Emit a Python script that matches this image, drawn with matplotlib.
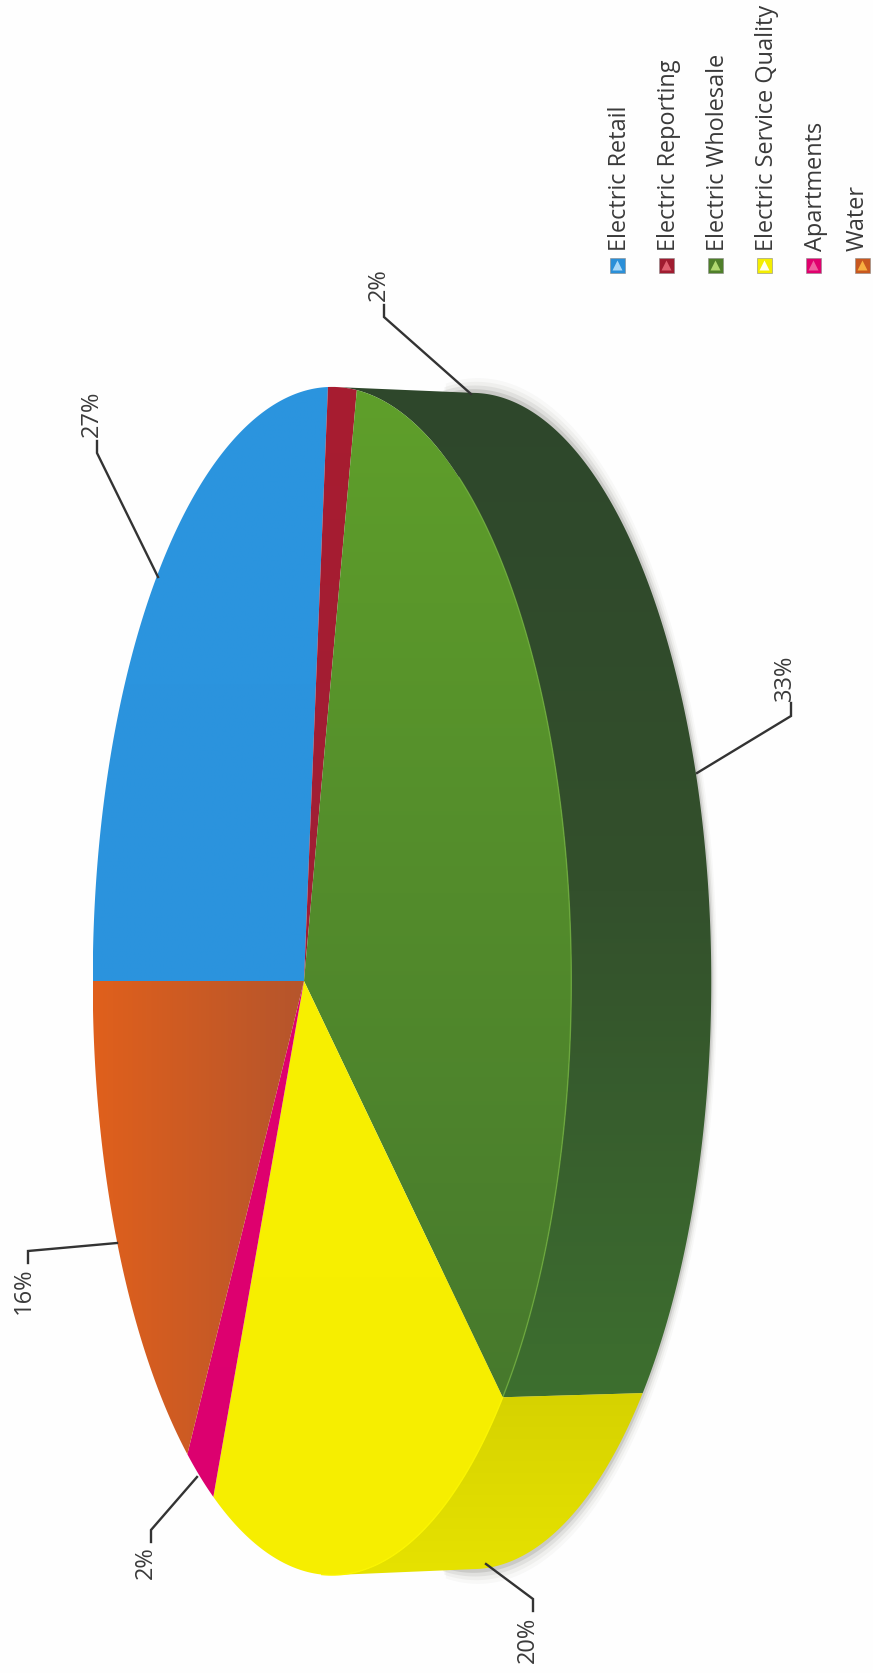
import numpy as np
import matplotlib
matplotlib.use("Agg")
import matplotlib.pyplot as plt
from matplotlib.colors import LinearSegmentedColormap
from matplotlib.patches import Polygon, Rectangle

# ---------- data ----------
categories = ["Electric Retail", "Electric Reporting", "Electric Wholesale",
              "Electric Service Quality", "Apartments", "Water"]
shares = [26.6, 1.9, 32.6, 20.49, 2.2, 16.21]
percent_labels = ["27%", "2%", "33%", "20%", "2%", "16%"]

# ---------- styles ----------
face_grads = [("#2b95df", "#2b93dd"), ("#a81c30", "#9f1f36"), ("#5f9f2a", "#47792d"),
              ("#f8f000", "#f6ee00"), ("#e0006e", "#dc0070"), ("#e0601c", "#b5552c")]
legend_cols = ["#2a8fd8", "#a01c30", "#4f7f2a", "#f4ee00", "#e0006e", "#c8581f"]
marker_cols = ["#a8d8f8", "#e06070", "#b0d870", "#fffff0", "#f060a0", "#f8b040"]

# ---------- layout (pixels of the page) ----------
W, H = 873, 1674
AX, AY = 304, 982        # pie centre on the top face
RX, RY, K = 236, 590, -0.117
DX, SY = 140, 0.99       # depth of the wall
START = 180.0            # page angle where the first slice begins
TANGENT = 83.0           # angle of the topmost and bottommost points of the ellipse
leaders = [[(158, 578), (97, 454), (97, 442)],
           [(471, 395), (384, 318), (384, 306)],
           [(697, 774), (791, 717), (791, 704)],
           [(486, 1565), (533, 1600), (533, 1612)],
           [(197, 1478), (151, 1531), (151, 1543)],
           [(117, 1244), (28, 1252), (28, 1264)]]
label_pos = [(92, 414), (379, 285), (785, 678), (528, 1640), (146, 1563), (24, 1291)]

FONT = "Open Sans"
TXT = "#3a3a3a"

fig = plt.figure(figsize=(W / 100, H / 100), dpi=100, facecolor="#fefefe")
ax = fig.add_axes([0, 0, 1, 1])
ax.set_axis_off()


def project(theta_deg, bottom=False):
    t = np.radians(np.asarray(theta_deg, dtype=float))
    u, v = np.cos(t), np.sin(t)
    x = AX + RX * u / (1 + K * u)
    y = AY - RY * v / (1 + K * u)
    if bottom:
        x = x + DX
        y = AY + (y - AY) * SY
    return np.column_stack([x, y])


def grad_fill(points, c0, c1, vertical=True, mid=None, zorder=2):
    """Polygon filled with a linear gradient, from left to right or top to bottom."""
    stops = [c0, c1] if mid is None else [c0, mid, c1]
    cmap = LinearSegmentedColormap.from_list("g", stops)
    xmin, ymin = points.min(axis=0)
    xmax, ymax = points.max(axis=0)
    ramp = np.linspace(0, 1, 256)
    arr = ramp[:, None] if vertical else ramp[None, :]
    im = ax.imshow(arr, cmap=cmap, extent=(xmin, xmax, ymax, ymin), aspect="auto",
                   interpolation="bilinear", origin="upper", zorder=zorder)
    patch = Polygon(points, closed=True, transform=ax.transData, fc="none", ec="none")
    ax.add_patch(patch)
    im.set_clip_path(patch)


# slice boundaries follow the shares
edges = START - np.cumsum([0] + shares) * 360.0 / sum(shares)

# soft scan shadow behind the wall
ring = project(np.linspace(TANGENT + 8, -TANGENT - 8, 300), bottom=True)
for off, alpha in [(6, 0.05), (4.5, 0.08), (3, 0.14), (1.5, 0.25)]:
    shadow_pts = ring + np.array([off, 0])
    shadow_pts[:, 1] = AY + (shadow_pts[:, 1] - AY) * (1 + off / 240)
    ax.add_patch(Polygon(shadow_pts, closed=True, fc="#8a8a84", ec="none", alpha=alpha, zorder=1))

# walls: slices 2 (green) and 3 (yellow) face the viewer; they run out to the
# tangent points of the silhouette at the top and bottom of the ellipses
t_green = np.linspace(TANGENT, edges[3], 240)
wall_green = np.vstack([project(t_green), project(t_green[::-1], bottom=True)])
grad_fill(wall_green, "#2e472b", "#3d6f2f", mid="#33502c", zorder=2)

t_yel = np.linspace(edges[3], -TANGENT, 120)
wall_yel = np.vstack([project(t_yel), project(t_yel[::-1], bottom=True)])
grad_fill(wall_yel, "#d6d200", "#e6e200", zorder=3)

# top face
for i in range(len(shares)):
    t = np.linspace(edges[i], edges[i + 1], 200)
    pts = np.vstack([[AX, AY], project(t)])
    c0, c1 = face_grads[i]
    grad_fill(pts, c0, c1, vertical=(i not in (5,)), zorder=4 + i * 0.01)

# light rim along the green slice
rim = project(np.linspace(edges[2] - 25, edges[3], 120))
ax.plot(rim[:, 0], rim[:, 1], color="#6fae3c", lw=1.0, alpha=0.8, zorder=5)
rim2 = project(np.linspace(edges[3], edges[4] + 28, 60))
ax.plot(rim2[:, 0], rim2[:, 1], color="#fbf500", lw=1.0, zorder=5)

# leaders and percentages
for pts, lab, (tx, ty) in zip(leaders, percent_labels, label_pos):
    xs, ys = zip(*pts)
    ax.plot(xs, ys, color="#333333", lw=1.7, solid_joinstyle="miter", zorder=6)
    ax.text(tx, ty, lab, rotation=90, ha="center", va="center", family=FONT,
            fontsize=17, color=TXT, zorder=6)

# legend
for i, (name, col, mcol) in enumerate(zip(categories, legend_cols, marker_cols)):
    cx = 617 + i * 49
    ax.add_patch(Rectangle((cx - 7.5, 259), 15, 15, fc=col, ec="#8a8a8a", lw=0.4, zorder=6))
    ax.plot([cx], [266], marker="^", ms=6.5, color=mcol, mec="none", zorder=7)
    ax.text(min(cx + 3, W - 15), 251, name, rotation=90, ha="center", va="bottom", family=FONT,
            fontsize=16.9, color=TXT, zorder=6)

ax.set_xlim(0, W)
ax.set_ylim(H, 0)
fig.savefig("out.png", dpi=100, facecolor=fig.get_facecolor())
